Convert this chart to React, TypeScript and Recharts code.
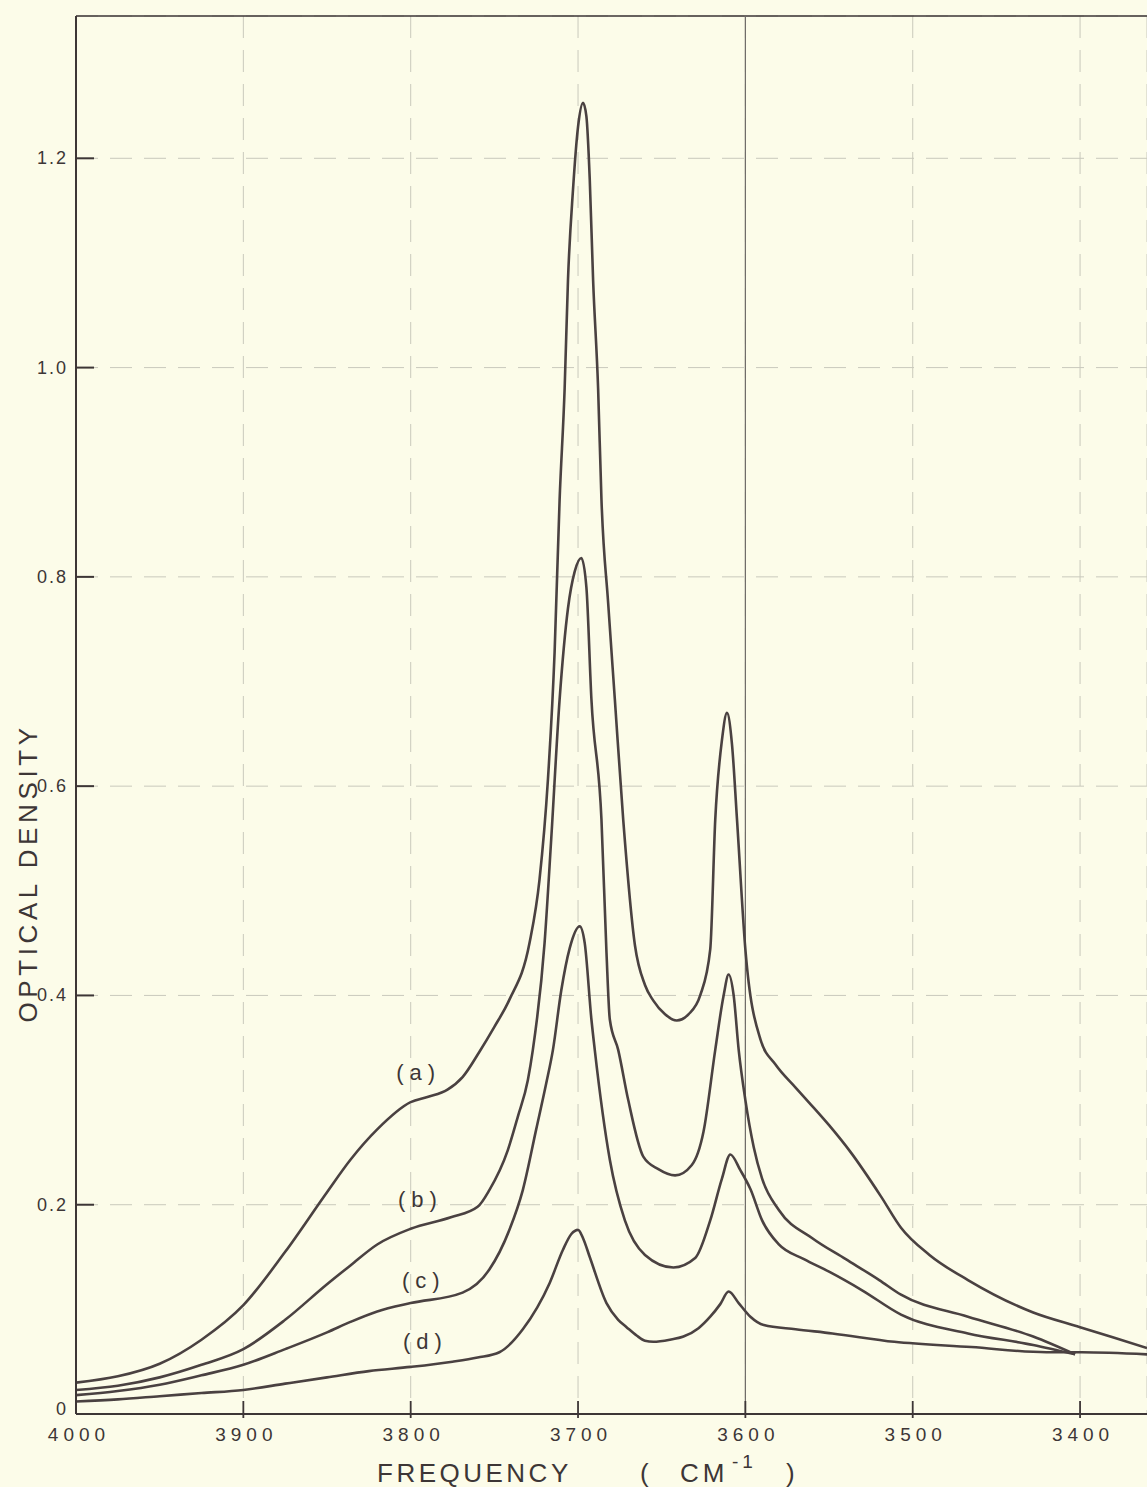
import React from 'react';
import { LineChart, Line, XAxis, YAxis, CartesianGrid, ReferenceLine, ReferenceDot } from 'recharts';

// Axis ticks
const xTicks = [4000, 3900, 3800, 3700, 3600, 3500, 3400];
const xTickLabels = ['4000', '3900', '3800', '3700', '3600', '3500', '3400'];
const yTicks = [0, 0.2, 0.4, 0.6, 0.8, 1.0, 1.2];
const yTickLabels = ['0', '0.2', '0.4', '0.6', '0.8', '1.0', '1.2'];
const xDomain = [3360, 4000];
const yDomain = [0, 1.336];

// Curve (a)
const freqA = [4000, 3975, 3950, 3925, 3900, 3875, 3850, 3836, 3820, 3800, 3790, 3778, 3769, 3759, 3750, 3741, 3729, 3723, 3718, 3714, 3711, 3708, 3706, 3703, 3700, 3697, 3695, 3693, 3691, 3688, 3686, 3682, 3678, 3673, 3666, 3660, 3655, 3648, 3641, 3634, 3627, 3621, 3618, 3614, 3611, 3608, 3605, 3600, 3591, 3582, 3570, 3561, 3550, 3537, 3519, 3507, 3490, 3467, 3428, 3400, 3360];
const odA = [0.030, 0.036, 0.048, 0.071, 0.104, 0.155, 0.212, 0.243, 0.272, 0.298, 0.303, 0.310, 0.322, 0.346, 0.370, 0.396, 0.450, 0.511, 0.606, 0.728, 0.874, 0.980, 1.084, 1.170, 1.230, 1.253, 1.240, 1.180, 1.084, 0.980, 0.874, 0.775, 0.683, 0.568, 0.448, 0.410, 0.395, 0.382, 0.376, 0.382, 0.400, 0.444, 0.568, 0.644, 0.670, 0.640, 0.568, 0.444, 0.358, 0.334, 0.312, 0.296, 0.276, 0.250, 0.208, 0.178, 0.152, 0.128, 0.097, 0.083, 0.063];

// Curve (b)
const freqB = [4000, 3975, 3950, 3925, 3900, 3875, 3850, 3836, 3820, 3800, 3776, 3760, 3753, 3742, 3736, 3730, 3727, 3720, 3716, 3711, 3706, 3702, 3698, 3695, 3692, 3686, 3683, 3681, 3676, 3670, 3661, 3652, 3642, 3632, 3625, 3618, 3613, 3610, 3607, 3604, 3600, 3595, 3590, 3580, 3560, 3540, 3520, 3507, 3467, 3428, 3403];
const odB = [0.023, 0.027, 0.035, 0.047, 0.062, 0.090, 0.124, 0.142, 0.162, 0.177, 0.188, 0.198, 0.214, 0.252, 0.284, 0.319, 0.348, 0.450, 0.550, 0.683, 0.770, 0.805, 0.818, 0.790, 0.683, 0.568, 0.441, 0.377, 0.348, 0.300, 0.246, 0.234, 0.228, 0.238, 0.270, 0.348, 0.400, 0.420, 0.400, 0.348, 0.300, 0.255, 0.225, 0.195, 0.168, 0.148, 0.128, 0.114, 0.093, 0.074, 0.057];

// Curve (c)
const freqC = [4000, 3975, 3950, 3925, 3900, 3875, 3850, 3836, 3820, 3800, 3769, 3753, 3741, 3733, 3725, 3719, 3715, 3710, 3705, 3699, 3696, 3692, 3690, 3681, 3672, 3660, 3643, 3630, 3621, 3614, 3609, 3603, 3597, 3590, 3580, 3565, 3550, 3530, 3507, 3467, 3428, 3403];
const odC = [0.018, 0.022, 0.028, 0.037, 0.047, 0.062, 0.078, 0.088, 0.098, 0.106, 0.116, 0.138, 0.176, 0.214, 0.272, 0.316, 0.348, 0.405, 0.445, 0.466, 0.450, 0.377, 0.348, 0.243, 0.185, 0.152, 0.140, 0.149, 0.185, 0.225, 0.248, 0.233, 0.215, 0.185, 0.162, 0.148, 0.136, 0.118, 0.095, 0.077, 0.066, 0.057];

// Curve (d)
const freqD = [4000, 3975, 3950, 3925, 3900, 3875, 3850, 3825, 3800, 3775, 3760, 3747, 3733, 3717, 3709, 3704, 3700, 3697, 3693, 3683, 3676, 3671, 3665, 3660, 3655, 3645, 3637, 3628, 3621, 3615, 3610, 3604, 3597, 3589, 3570, 3548, 3511, 3465, 3420, 3399, 3360];
const odD = [0.012, 0.014, 0.017, 0.020, 0.023, 0.029, 0.035, 0.041, 0.045, 0.050, 0.054, 0.059, 0.081, 0.125, 0.157, 0.172, 0.176, 0.168, 0.150, 0.106, 0.090, 0.083, 0.075, 0.070, 0.069, 0.071, 0.074, 0.082, 0.093, 0.105, 0.117, 0.106, 0.093, 0.085, 0.081, 0.077, 0.069, 0.064, 0.059, 0.059, 0.057];

// Curve labels
const curveLabels = ['(a)', '(b)', '(c)', '(d)'];
const labelFreq = [3797, 3796, 3794, 3793];
const labelOD = [0.326, 0.205, 0.128, 0.069];

const INK = '#3d3636';
const LINE = '#4a4141';
const FONT = '"Liberation Sans", Arial, sans-serif';

const toPoints = (f: number[], v: number[]) => f.map((x, i) => ({ freq: x, od: v[i] }));
const series = [toPoints(freqA, odA), toPoints(freqB, odB), toPoints(freqC, odC), toPoints(freqD, odD)];

const YTick = (props: any) => {
  const { x, y, payload } = props;
  const i = yTicks.indexOf(payload.value);
  const lbl = i >= 0 ? yTickLabels[i] : String(payload.value);
  const isZero = payload.value === 0;
  return (
    <g>
      {!isZero && <line x1={x} x2={x + 18} y1={y} y2={y} stroke={INK} strokeWidth={2} />}
      <text x={x - 8} y={isZero ? y + 1 : y + 6} textAnchor="end" fontFamily={FONT} fontSize={18} letterSpacing={2} fill={INK}>
        {lbl}
      </text>
    </g>
  );
};

const XTick = (props: any) => {
  const { x, y, payload } = props;
  const i = xTicks.indexOf(payload.value);
  const lbl = i >= 0 ? xTickLabels[i] : String(payload.value);
  const isEdge = payload.value === 4000;
  return (
    <g>
      {!isEdge && <line x1={x} x2={x} y1={y - 13} y2={y + 4} stroke={INK} strokeWidth={1.8} />}
      <text x={x + 3} y={y + 27} textAnchor="middle" fontFamily={FONT} fontSize={19} letterSpacing={5} fill={INK}>
        {lbl}
      </text>
    </g>
  );
};

const YTitle = (props: any) => {
  const vb = props.viewBox || { x: 0, y: 0, width: 0, height: 0 };
  const cx = vb.x + 28;
  const cy = vb.y + vb.height * 0.613;
  return (
    <text x={cx} y={cy} transform={`rotate(-90, ${cx}, ${cy})`} textAnchor="middle" dominantBaseline="central" fontFamily={FONT} fontSize={26} letterSpacing={4.6} fill={INK}>
      OPTICAL DENSITY
    </text>
  );
};

const XTitle = (props: any) => {
  const vb = props.viewBox || { x: 0, y: 0, width: 0, height: 0 };
  const base = vb.y + 68;
  const x0 = vb.x;
  return (
    <g fontFamily={FONT} fill={INK}>
      <text x={x0 + 301} y={base} fontSize={26} letterSpacing={3.5}>FREQUENCY</text>
      <text x={x0 + 564} y={base} fontSize={26}>(</text>
      <text x={x0 + 604} y={base} fontSize={26} letterSpacing={4}>CM</text>
      <text x={x0 + 656} y={base - 14} fontSize={19} letterSpacing={4}>-1</text>
      <text x={x0 + 710} y={base} fontSize={26}>)</text>
    </g>
  );
};

const CurveLabel = (text: string) => (props: any) => {
  const vb = props.viewBox || {};
  const cx = (vb.x || 0) + (vb.width || 0) / 2;
  const cy = (vb.y || 0) + (vb.height || 0) / 2;
  return (
    <text x={cx + 3} y={cy} textAnchor="middle" dominantBaseline="central" fontFamily={FONT} fontSize={22} letterSpacing={6} fill={INK}>
      {text}
    </text>
  );
};

export default function App() {
  return (
    <div style={{ position: 'absolute', left: 0, top: 0, width: 1147, height: 1487, background: '#fcfce9' }}>
      <LineChart width={1147} height={1487} margin={{ top: 16, right: 0, bottom: 0, left: 0 }}>
        <CartesianGrid stroke="#c9c9bc" strokeWidth={1} strokeDasharray="22 12" />
        <XAxis
          dataKey="freq"
          type="number"
          domain={xDomain}
          reversed
          allowDataOverflow
          ticks={xTicks}
          interval={0}
          height={73}
          tickSize={0}
          tickMargin={0}
          tickLine={false}
          axisLine={{ stroke: INK, strokeWidth: 2 }}
          tick={<XTick />}
          label={(p: any) => <XTitle {...p} />}
        />
        <YAxis
          dataKey="od"
          type="number"
          domain={yDomain}
          allowDataOverflow
          ticks={yTicks}
          interval={0}
          width={76}
          tickSize={0}
          tickMargin={0}
          tickLine={false}
          axisLine={{ stroke: INK, strokeWidth: 2 }}
          tick={<YTick />}
          label={(p: any) => <YTitle {...p} />}
        />
        <ReferenceLine y={yDomain[1]} stroke={INK} strokeWidth={1.6} />
        <ReferenceLine x={3600} stroke="#6e6a66" strokeWidth={1.2} />
        {series.map((d, i) => (
          <Line
            key={curveLabels[i]}
            data={d}
            dataKey="od"
            type="monotone"
            stroke={LINE}
            strokeWidth={2.6}
            dot={false}
            activeDot={false}
            isAnimationActive={false}
          />
        ))}
        {curveLabels.map((t, i) => (
          <ReferenceDot key={t} x={labelFreq[i]} y={labelOD[i]} r={0} fill="none" stroke="none" label={CurveLabel(t)} />
        ))}
      </LineChart>
    </div>
  );
}
